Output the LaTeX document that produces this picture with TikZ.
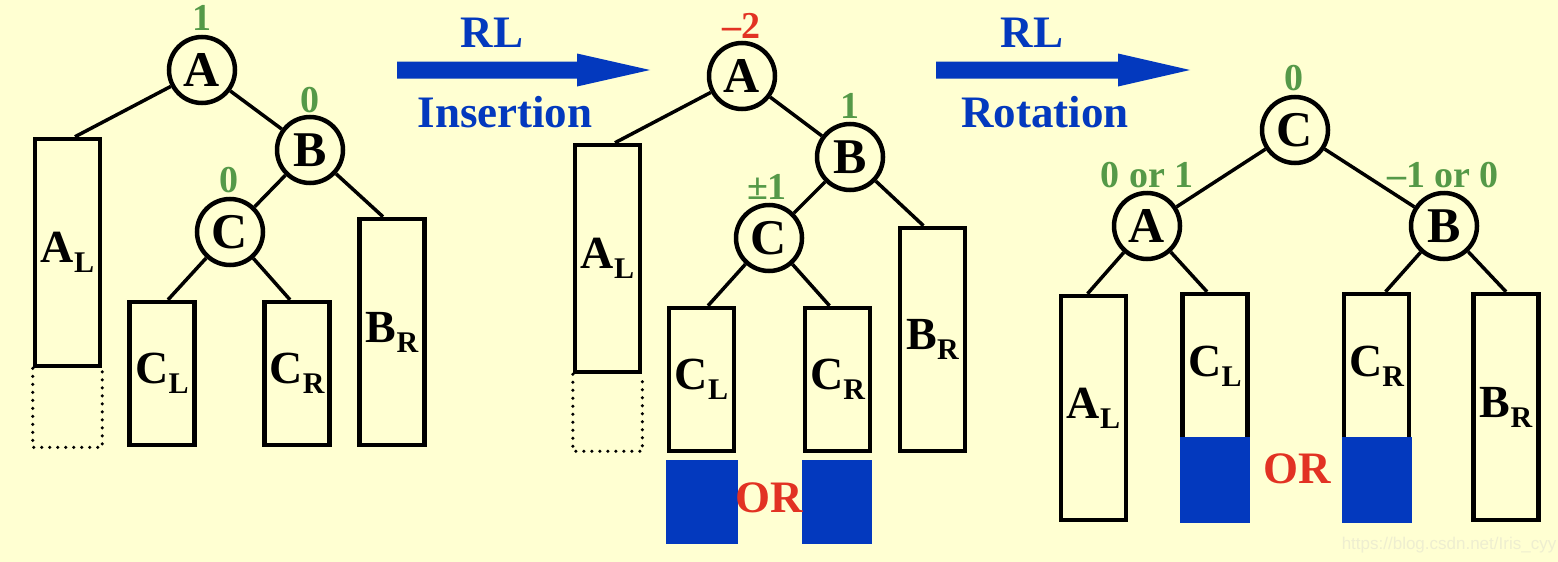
\documentclass[tikz,border=0pt]{standalone}
\usepackage{fontspec}
\setmainfont{Liberation Serif}
\setsansfont{Liberation Sans}

\definecolor{bgyellow}{RGB}{255,255,210}
\definecolor{bfgreen}{RGB}{85,153,72}
\definecolor{bfred}{RGB}{226,50,35}
\definecolor{insblue}{RGB}{3,57,190}
\definecolor{wmgray}{RGB}{238,238,208}

% letter with lowered subscript
\newcommand{\lsub}[2]{#1\raisebox{-10pt}{\fontsize{30}{30}\selectfont #2}}

\tikzset{
  avl/.style={circle, draw, line width=4.5pt, minimum size=66pt, inner sep=0pt,
    font=\fontsize{50}{50}\selectfont\bfseries},
  subtree/.style={draw, line width=4.5pt, minimum width=65pt, inner sep=0pt,
    font=\fontsize{46}{46}\selectfont\bfseries},
  ghost/.style={line width=3.5pt, line cap=round, dash pattern=on 0pt off 8pt},
  newnode/.style={fill=insblue, minimum width=71pt, minimum height=85pt, inner sep=0pt},
  bal/.style={text=bfgreen, font=\fontsize{38}{38}\selectfont\bfseries, inner sep=0pt},
  caption/.style={text=insblue, font=\fontsize{45}{45}\selectfont\bfseries, inner sep=0pt},
  ortext/.style={text=bfred, font=\fontsize{45}{45}\selectfont\bfseries, inner sep=0pt},
  edge/.style={line width=3.5pt}
}

\begin{document}
\begin{tikzpicture}[x=1pt, y=-1pt]
  \path[use as bounding box, fill=bgyellow] (0,0) rectangle (1558,562);

  % Tree before insertion
  \node[avl] (A1) at (202,70) {A};
  \node[avl] (B1) at (310,150) {B};
  \node[avl] (C1) at (230,232) {C};
  \node[subtree, minimum height=227pt] (AL1) at (67.5,252.5) {\lsub{A}{L}};
  \node[subtree, minimum height=143pt] (CL1) at (162,373.5) {\lsub{C}{L}};
  \node[subtree, minimum height=143pt] (CR1) at (297,373.5) {\lsub{C}{R}};
  \node[subtree, minimum height=226pt] (BR1) at (392,332) {\lsub{B}{R}};
  \draw[ghost] (AL1.south west) -- ++(0,79) -| (AL1.south east);
  \node[bal] (bA1) at (202,18) {1};
  \node[bal] (bB1) at (310,100) {0};
  \node[bal] (bC1) at (229,180) {0};
  \draw[edge] (A1) -- ([xshift=7.5pt]AL1.north);
  \draw[edge] (A1) -- (B1);
  \draw[edge] (B1) -- (C1);
  \draw[edge] (B1) -- ([xshift=-9pt]BR1.north);
  \draw[edge] (C1) -- ([xshift=6pt]CL1.north);
  \draw[edge] (C1) -- ([xshift=-7pt]CR1.north);

  % RL insertion
  \coordinate (ins-s) at (397,70);
  \coordinate (ins-e) at (650,70);
  \fill[insblue] (ins-s) ++(0,-8.5) -- ++(180,0) -- ++(0,-8) -- (ins-e)
    -- ++(-73,16.5) -- ++(0,-8) -- ++(-180,0) -- cycle;
  \node[caption] (ins-t) at (492,33) {RL};
  \node[caption] (ins-b) at (505,112) {Insertion};

  % Tree after insertion
  \node[avl] (A2) at (742,76) {A};
  \node[avl] (B2) at (850,157) {B};
  \node[avl] (C2) at (769,238) {C};
  \node[subtree, minimum height=227pt] (AL2) at (607.5,258.5) {\lsub{A}{L}};
  \node[subtree, minimum height=143pt] (CL2) at (701.5,379.5) {\lsub{C}{L}};
  \node[subtree, minimum height=143pt] (CR2) at (837.5,379.5) {\lsub{C}{R}};
  \node[subtree, minimum height=223pt] (BR2) at (932.5,339.5) {\lsub{B}{R}};
  \draw[ghost] (AL2.south west) -- ++(0,77) -| (AL2.south east);
  \node[newnode, minimum width=72pt, minimum height=84pt] (N2l) at (702,502) {};
  \node[newnode, minimum width=70pt, minimum height=84pt] (N2r) at (837,502) {};
  \node[ortext] (or2) at (769,498) {OR};
  \node[bal, text=bfred] (bA2) at (741,26) {–2};
  \node[bal] (bB2) at (850,106) {1};
  \node[bal] (bC2) at (767,187) {±1};
  \draw[edge] (A2) -- ([xshift=7.5pt]AL2.north);
  \draw[edge] (A2) -- (B2);
  \draw[edge] (B2) -- (C2);
  \draw[edge] (B2) -- ([xshift=-9pt]BR2.north);
  \draw[edge] (C2) -- ([xshift=6.5pt]CL2.north);
  \draw[edge] (C2) -- ([xshift=-8pt]CR2.north);

  % RL rotation
  \coordinate (rot-s) at (936,70);
  \coordinate (rot-e) at (1190,70);
  \fill[insblue] (rot-s) ++(0,-8.5) -- ++(182,0) -- ++(0,-8) -- (rot-e)
    -- ++(-72,16.5) -- ++(0,-8) -- ++(-182,0) -- cycle;
  \node[caption] (rot-t) at (1032,33) {RL};
  \node[caption] (rot-b) at (1045,112) {Rotation};

  % Tree after rotation
  \node[avl] (C3) at (1295,130) {C};
  \node[avl] (A3) at (1147,226) {A};
  \node[avl] (B3) at (1444,226) {B};
  \node[subtree, minimum height=224pt] (AL3) at (1093.5,408) {\lsub{A}{L}};
  \node[subtree, minimum height=145pt] (CL3) at (1215,366.5) {\lsub{C}{L}};
  \node[subtree, minimum height=145pt] (CR3) at (1376.5,366.5) {\lsub{C}{R}};
  \node[subtree, minimum height=226pt] (BR3) at (1506,407) {\lsub{B}{R}};
  \node[newnode, minimum width=70pt, minimum height=86pt] (N3l) at (1215,480) {};
  \node[newnode, minimum width=70pt, minimum height=86pt] (N3r) at (1377,480) {};
  \node[ortext] (or3) at (1297,469) {OR};
  \node[bal] (bC3) at (1294,78) {0};
  \node[bal] (bA3) at (1147,175) {0 or 1};
  \node[bal] (bB3) at (1443,175) {–1 or 0};
  \draw[edge] (C3) -- (A3);
  \draw[edge] (C3) -- (B3);
  \draw[edge] (A3) -- ([xshift=-6pt]AL3.north);
  \draw[edge] (A3) -- ([xshift=-8pt]CL3.north);
  \draw[edge] (B3) -- ([xshift=9pt]CR3.north);
  \draw[edge] (B3) -- (BR3.north);

  \node[text=wmgray, font=\sffamily\fontsize{17}{17}\selectfont, inner sep=0pt] (wm) at (1449,545) {https://blog.csdn.net/Iris\_cyy};
\end{tikzpicture}
\end{document}
